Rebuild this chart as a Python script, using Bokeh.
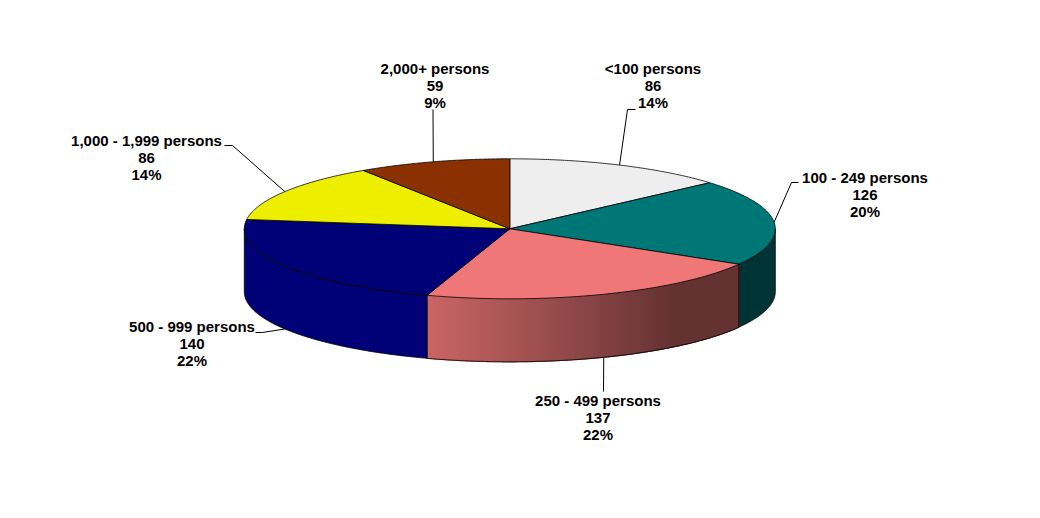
import numpy as np
from bokeh.plotting import figure
from bokeh.embed import file_html
from bokeh.resources import INLINE
from bokeh.core.properties import value

categories = ["<100 persons", "100 - 249 persons", "250 - 499 persons", "500 - 999 persons", "1,000 - 1,999 persons", "2,000+ persons"]
counts = [86, 126, 137, 140, 86, 59]
percents = ["14%", "20%", "22%", "22%", "14%", "9%"]

top_colors = ["#EEEEEE", "#007777", "#F07777", "#000077", "#EEEE00", "#8B3000"]
side_colors = [None, "#003333", None, "#000077", None, None]

CX, CY, RX, RY, DEPTH = 509.3, 228.3, 265.5, 70, 63
GRAD_FROM, GRAD_TO, GRAD_END = (204, 102, 102), (102, 51, 51), 672

# label anchor (centre x, first line y) and leader elbow points
label_pos = [(652.5, 68), (864.5, 177), (597.5, 400), (191.5, 326), (146, 140), (434.5, 68)]
elbows = [[(627, 109), (635, 109)], [(791, 182), (798, 182)], [(603, 391)],
          [(262, 332), (255, 332)], [(232, 145), (224, 145)], [(432.5, 109)]]

p = figure(width=1024, height=502, x_range=(0, 1024), y_range=(502, 0),
           output_backend="svg", toolbar_location=None, min_border=0,
           outline_line_color=None)
p.axis.visible = False
p.grid.visible = False

total = sum(counts)
edges = np.cumsum([0] + counts) / total * 2 * np.pi

def ex(t): return CX + RX * np.sin(t)
def ey(t): return CY - RY * np.cos(t)

# side walls (front half only)
for i in range(len(counts)):
    a, b = edges[i], edges[i + 1]
    lo, hi = max(a, np.pi / 2), min(b, 3 * np.pi / 2)
    if lo >= hi:
        continue
    t = np.linspace(lo, hi, 120)
    if side_colors[i] is not None:
        xs = np.r_[ex(t), ex(t)[::-1]]
        ys = np.r_[ey(t), ey(t)[::-1] + DEPTH]
        p.patch(xs, ys, fill_color=side_colors[i], line_color="#000000", line_width=0.8)
    else:
        # horizontal gradient made of thin strips
        x0, x1 = ex(hi), ex(lo)
        steps = np.arange(np.floor(x0), np.ceil(x1))
        for xa in steps:
            xl = max(xa, x0); xr = min(xa + 1, x1)
            f = min(1, (xa - x0) / (GRAD_END - x0))
            col = "#%02x%02x%02x" % tuple(int(round(c0 + (c1 - c0) * f)) for c0, c1 in zip(GRAD_FROM, GRAD_TO))
            ta = np.pi - np.arcsin((xl - CX) / RX)
            tb = np.pi - np.arcsin((xr - CX) / RX)
            p.patch([xl, xr, xr, xl], [ey(ta), ey(tb), ey(tb) + DEPTH, ey(ta) + DEPTH],
                    fill_color=col, line_color=col, line_width=1.2)
        t2 = np.linspace(lo, hi, 120)
        p.line(ex(t2), ey(t2) + DEPTH, line_color="#000000", line_width=0.8)
        p.line([ex(lo)] * 2, [ey(lo), ey(lo) + DEPTH], line_color="#000000", line_width=0.8)
        p.line([ex(hi)] * 2, [ey(hi), ey(hi) + DEPTH], line_color="#000000", line_width=0.8)

# top slices
for i, col in enumerate(top_colors):
    t = np.linspace(edges[i], edges[i + 1], 120)
    p.patch(np.r_[CX, ex(t)], np.r_[CY, ey(t)], fill_color=col,
            line_color="#000000", line_width=0.8)

# leader lines and labels
for i, name in enumerate(categories):
    mid = (edges[i] + edges[i + 1]) / 2
    drop = DEPTH if np.pi / 2 < mid < 3 * np.pi / 2 and i != 1 else 0
    xs = [ex(mid)] + [e[0] for e in elbows[i]]
    ys = [ey(mid) + drop] + [e[1] for e in elbows[i]]
    p.line(xs, ys, line_color="#000000", line_width=1)
    lx, ly = label_pos[i]
    for k, s in enumerate([name, str(counts[i]), percents[i]]):
        p.text([lx], [ly + 17 * k], text=[s], text_font=value("Liberation Sans"),
               text_font_style="bold", text_font_size="15px", text_color="#000000",
               text_align="center", text_baseline="middle")

open("out.html", "w").write(file_html(p, INLINE))
